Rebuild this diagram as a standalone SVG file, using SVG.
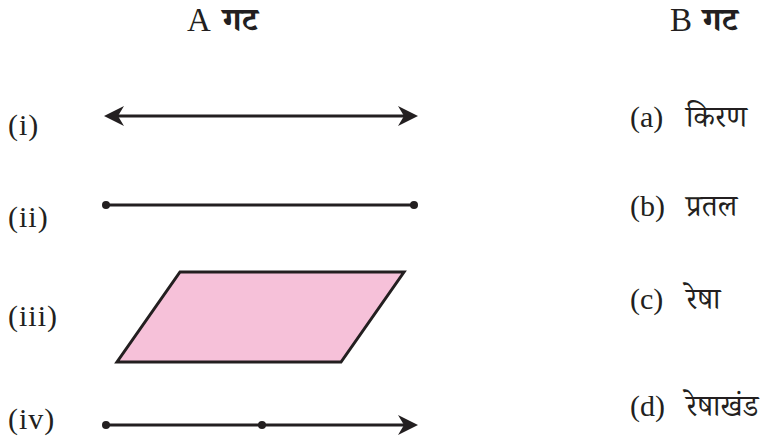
<svg xmlns="http://www.w3.org/2000/svg" width="771" height="446" viewBox="0 0 771 446">
<style>
.t{font-family:"Liberation Serif","Noto Serif Devanagari","Noto Sans Devanagari","Lohit Devanagari",serif;font-size:30px;fill:#231f20}
.d{font-size:30px}
.h{font-size:33px}
.hd{font-weight:bold}
.ln{stroke:#231f20;stroke-width:3;fill:none}
.dot{fill:#231f20}
</style>
<defs>
<marker id="ah" viewBox="0 0 20 20" refX="14" refY="10" markerWidth="20" markerHeight="20" markerUnits="userSpaceOnUse" orient="auto-start-reverse">
<path d="M0,0 L20,10 L0,20 L6,10 Z" fill="#231f20"/>
</marker>
</defs>
<g id="header-a"><text class="t h" x="187" y="31">A <tspan class="hd" x="223">गट</tspan></text></g>
<g id="header-b"><text class="t h" x="670" y="31">B <tspan class="hd" x="703">गट</tspan></text></g>
<g id="label-i"><text class="t" x="8" y="135" letter-spacing="1">(i)</text></g>
<g id="label-ii"><text class="t" x="8" y="227" letter-spacing="1">(ii)</text></g>
<g id="label-iii"><text class="t" x="8" y="326" letter-spacing="1">(iii)</text></g>
<g id="label-iv"><text class="t" x="8" y="429" letter-spacing="1">(iv)</text></g>
<g id="fig-line"><line class="ln" x1="110" y1="116" x2="412" y2="116" marker-start="url(#ah)" marker-end="url(#ah)"/></g>
<g id="fig-segment"><line class="ln" x1="106" y1="205" x2="414" y2="205"/><circle class="dot" cx="106" cy="205" r="4"/><circle class="dot" cx="414" cy="205" r="4"/></g>
<g id="fig-plane"><polygon points="180,272 404,272 341,362 117,362" fill="#f6c1d9" stroke="#231f20" stroke-width="3" stroke-linejoin="miter"/></g>
<g id="fig-ray"><line class="ln" x1="106" y1="425" x2="412" y2="425" marker-end="url(#ah)"/><circle class="dot" cx="106" cy="425" r="4"/><circle class="dot" cx="262" cy="425" r="4"/></g>
<g id="opt-a"><text class="t" x="630" y="127">(a) <tspan class="d" x="686">किरण</tspan></text></g>
<g id="opt-b"><text class="t" x="630" y="216">(b) <tspan class="d" x="686">प्रतल</tspan></text></g>
<g id="opt-c"><text class="t" x="630" y="309">(c) <tspan class="d" x="686">रेषा</tspan></text></g>
<g id="opt-d"><text class="t" x="630" y="416">(d) <tspan class="d" x="686">रेषाखंड</tspan></text></g>
</svg>
